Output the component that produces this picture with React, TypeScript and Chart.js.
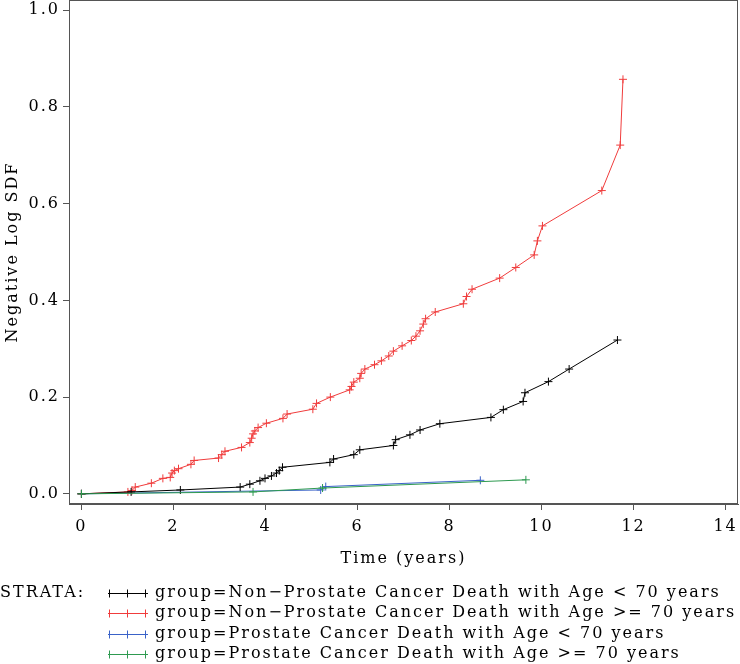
import React, { useEffect, useRef } from "react";
import { Chart, registerables } from "chart.js";

Chart.register(...registerables);

// ---- Data ----
const seriesLabels = [
  "group=Non\u2212Prostate Cancer Death with Age < 70 years",
  "group=Non\u2212Prostate Cancer Death with Age >= 70 years",
  "group=Prostate Cancer Death with Age < 70 years",
  "group=Prostate Cancer Death with Age >= 70 years",
];
const seriesColors = ["#000000", "#f03c3c", "#3a62c8", "#2e9a50"];

const npYoungTime = [0, 1.08, 2.15, 3.45, 3.66, 3.88, 3.99, 4.13, 4.24, 4.3, 4.37, 5.4, 5.48, 5.92, 6.05, 6.78, 6.83, 7.14, 7.36, 7.79, 8.9, 9.17, 9.6, 9.64, 10.15, 10.6, 11.65];
const npYoungValue = [0, 0.004, 0.008, 0.014, 0.02, 0.027, 0.032, 0.037, 0.043, 0.048, 0.055, 0.065, 0.072, 0.081, 0.091, 0.1, 0.112, 0.122, 0.132, 0.145, 0.158, 0.174, 0.191, 0.209, 0.232, 0.258, 0.318];

const npOldTime = [0, 1.01, 1.1, 1.17, 1.52, 1.77, 1.93, 1.97, 2.02, 2.11, 2.38, 2.45, 2.98, 3.05, 3.12, 3.48, 3.66, 3.7, 3.73, 3.77, 3.84, 4.02, 4.38, 4.47, 5.03, 5.11, 5.41, 5.83, 5.87, 5.92, 6.05, 6.08, 6.16, 6.37, 6.52, 6.68, 6.78, 6.97, 7.17, 7.27, 7.36, 7.43, 7.48, 7.69, 8.3, 8.37, 8.49, 9.09, 9.44, 9.84, 9.91, 10.02, 11.31, 11.71, 11.77];
const npOldValue = [0, 0.004, 0.007, 0.014, 0.022, 0.032, 0.034, 0.043, 0.048, 0.052, 0.061, 0.069, 0.074, 0.081, 0.088, 0.096, 0.106, 0.115, 0.124, 0.13, 0.137, 0.146, 0.156, 0.165, 0.175, 0.187, 0.2, 0.215, 0.222, 0.231, 0.239, 0.249, 0.258, 0.267, 0.275, 0.285, 0.295, 0.306, 0.317, 0.326, 0.337, 0.351, 0.362, 0.376, 0.393, 0.408, 0.423, 0.446, 0.468, 0.494, 0.523, 0.554, 0.627, 0.721, 0.857];

const pYoungTime = [0, 5.2, 5.31, 8.67];
const pYoungValue = [0, 0.008, 0.015, 0.028];

const pOldTime = [0, 3.73, 5.24, 9.66];
const pOldValue = [0, 0.004, 0.012, 0.029];

const xTicks = [0, 2, 4, 6, 8, 10, 12, 14];
const yTicks = [0, 0.2, 0.4, 0.6, 0.8, 1.0];

const xTitle = "Time (years)";
const yTitle = "Negative Log SDF";
const legendTitle = "STRATA:";

const FONT = '"DejaVu Serif", serif';
const LETTER_SPACING = "2px";

function pts(t: number[], v: number[]) {
  return t.map((x, i) => ({ x, y: v[i] }));
}

const framePlugin = {
  id: "frameAndLegend",
  beforeDraw(chart: any) {
    chart.ctx.letterSpacing = LETTER_SPACING;
  },
  afterDraw(chart: any) {
    const ctx = chart.ctx as CanvasRenderingContext2D;
    const a = chart.chartArea;
    ctx.save();
    ctx.strokeStyle = "#555";
    ctx.lineWidth = 1;
    ctx.strokeRect(Math.round(a.left) + 0.5, Math.round(a.top) + 0.5, Math.round(a.right - a.left) - 1, Math.round(a.bottom - a.top) - 1);

    // Legend
    (ctx as any).letterSpacing = LETTER_SPACING;
    ctx.font = `16px ${FONT}`;
    ctx.textBaseline = "middle";
    ctx.textAlign = "left";
    ctx.fillStyle = "#000";
    const y0 = 593;
    const dy = 20.3;
    ctx.fillText(legendTitle, 0, y0);
    chart.data.datasets.forEach((ds: any, i: number) => {
      const y = Math.round(y0 + dy * i) + 0.5;
      ctx.strokeStyle = ds.borderColor;
      ctx.lineWidth = 1;
      ctx.beginPath();
      ctx.moveTo(108, y);
      ctx.lineTo(148, y);
      [109, 127, 145].forEach((cx) => {
        ctx.moveTo(cx + 0.5, y - 4);
        ctx.lineTo(cx + 0.5, y + 4);
      });
      ctx.stroke();
      ctx.fillStyle = "#000";
      ctx.fillText(ds.label, 155, y0 + dy * i);
    });
    ctx.restore();
  },
};

export default function App() {
  const ref = useRef<HTMLCanvasElement | null>(null);
  useEffect(() => {
    if (!ref.current) return;
    const data = [
      pts(npYoungTime, npYoungValue),
      pts(npOldTime, npOldValue),
      pts(pYoungTime, pYoungValue),
      pts(pOldTime, pOldValue),
    ];
    const chart = new Chart(ref.current, {
      type: "scatter",
      data: {
        datasets: data.map((d, i) => ({
          label: seriesLabels[i],
          data: d,
          showLine: true,
          borderColor: seriesColors[i],
          backgroundColor: seriesColors[i],
          borderWidth: 1,
          pointStyle: "cross",
          pointRadius: 4,
          pointBorderWidth: 1,
          pointHoverRadius: 4,
          order: i === 3 ? 0 : i + 1,
        })),
      },
      options: {
        animation: false,
        responsive: true,
        maintainAspectRatio: false,
        layout: { autoPadding: false, padding: { left: 0, right: 2, top: 0, bottom: 92 } },
        plugins: {
          legend: { display: false },
          tooltip: { enabled: false },
        },
        scales: {
          x: {
            type: "linear",
            min: -0.27,
            max: 14.27,
            afterBuildTicks: (s: any) => {
              s.ticks = xTicks.map((v) => ({ value: v }));
            },
            afterFit: (s: any) => {
              s.height = 68;
              s.paddingLeft = 0;
              s.paddingRight = 0;
              s.paddingTop = 0;
              s.paddingBottom = 0;
            },
            grid: { drawOnChartArea: false, drawTicks: true, tickLength: 6, color: "#555" },
            border: { display: true, color: "#555" },
            ticks: {
              color: "#000",
              padding: 7,
              maxRotation: 0,
              autoSkip: false,
              font: { family: FONT, size: 16 },
              callback: (v: any) => String(v),
            },
            title: {
              display: true,
              text: xTitle,
              color: "#000",
              font: { family: FONT, size: 16 },
              padding: { top: 0, bottom: 4 },
            },
          },
          y: {
            type: "linear",
            min: -0.021,
            max: 1.021,
            afterBuildTicks: (s: any) => {
              s.ticks = yTicks.map((v) => ({ value: v }));
            },
            afterFit: (s: any) => {
              s.width = 69;
              s.paddingLeft = 0;
              s.paddingRight = 0;
              s.paddingTop = 0;
              s.paddingBottom = 0;
            },
            grid: { drawOnChartArea: false, drawTicks: true, tickLength: 6, color: "#555" },
            border: { display: true, color: "#555" },
            ticks: {
              color: "#000",
              padding: 3,
              autoSkip: false,
              font: { family: FONT, size: 16 },
              callback: (v: any) => Number(v).toFixed(1),
            },
            title: {
              display: true,
              text: yTitle,
              color: "#000",
              font: { family: FONT, size: 16 },
              padding: { top: 3, bottom: 0 },
            },
          },
        },
      },
      plugins: [framePlugin],
    });
    return () => chart.destroy();
  }, []);

  return (
    <div style={{ position: "fixed", left: 0, top: 0, width: 740, height: 664, background: "#fff" }}>
      <canvas ref={ref} />
    </div>
  );
}
